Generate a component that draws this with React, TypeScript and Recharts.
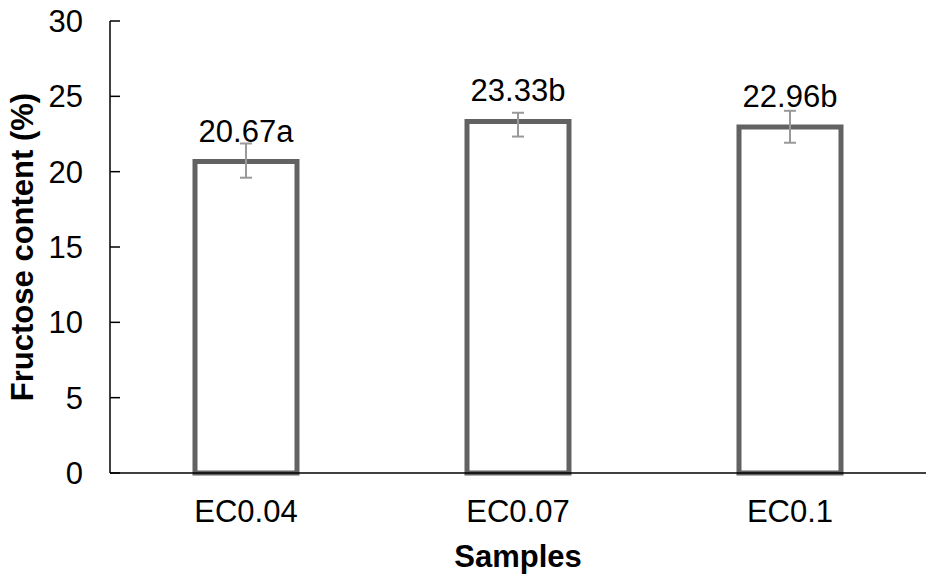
import { BarChart, Bar, XAxis, YAxis, ErrorBar, LabelList } from 'recharts';

const samples = ['EC0.04', 'EC0.07', 'EC0.1'];
const fructose = [20.67, 23.33, 22.96];
const letters = ['a', 'b', 'b'];
// [below, above] error extents read from the whiskers
const errors = [
  [1.07, 1.2],
  [1.0, 0.58],
  [1.04, 1.08],
];
const yTicks = [0, 5, 10, 15, 20, 25, 30];

const FONT = '"Liberation Sans", Arial, sans-serif';

const chartData = samples.map((name, i) => ({
  name,
  value: fructose[i],
  err: errors[i],
  letter: letters[i],
}));

const YTick = ({ x, y, payload }: any) => (
  <g>
    <line x1={x} x2={x + 10} y1={y} y2={y} stroke="#000" strokeWidth={1.5} />
    <text x={x - 27} y={y + 11} textAnchor="end" fontSize={31} fontFamily={FONT} fill="#000">
      {payload.value}
    </text>
  </g>
);

const XTick = ({ x, y, payload }: any) => (
  <text x={x} y={y + 49} textAnchor="middle" fontSize={31} fontFamily={FONT} fill="#000">
    {payload.value}
  </text>
);

const ValueLabel = ({ x, y, width, value, index }: any) => (
  <text
    x={x + width / 2}
    y={y - 20}
    textAnchor="middle"
    fontSize={31}
    fontFamily={FONT}
    fill="#000"
  >
    {Number(value).toFixed(2)}
    {letters[index]}
  </text>
);

export default function App() {
  return (
    <div style={{ position: 'absolute', left: 0, top: 0, width: 934, height: 582, background: '#fff' }}>
      <BarChart
        width={934}
        height={582}
        data={chartData}
        margin={{ top: 21, right: 8, left: 0, bottom: 0 }}
        barCategoryGap="31%"
      >
        <XAxis
          dataKey="name"
          height={109}
          tickLine={false}
          tickSize={0}
          tickMargin={0}
          axisLine={{ stroke: '#000', strokeWidth: 1.5 }}
          tick={<XTick />}
          label={{
            content: ({ viewBox }: any) => (
              <text
                x={viewBox.x + viewBox.width / 2}
                y={567}
                textAnchor="middle"
                fontSize={31}
                fontWeight="bold"
                fontFamily={FONT}
                fill="#000"
              >
                Samples
              </text>
            ),
          }}
        />
        <YAxis
          width={110}
          domain={[0, 30]}
          ticks={yTicks}
          interval={0}
          tickLine={false}
          tickSize={0}
          tickMargin={0}
          axisLine={{ stroke: '#000', strokeWidth: 1.5 }}
          tick={<YTick />}
          label={{
            content: ({ viewBox }: any) => {
              const cy = viewBox.y + viewBox.height / 2;
              return (
                <text
                  x={33}
                  y={cy}
                  transform={`rotate(-90, 33, ${cy})`}
                  textAnchor="middle"
                  fontSize={31}
                  fontWeight="bold"
                  fontFamily={FONT}
                  fill="#000"
                >
                  Fructose content (%)
                </text>
              );
            },
          }}
        />
        <Bar
          dataKey="value"
          fill="#fff"
          stroke="#626262"
          strokeWidth={5}
          barSize={102}
          isAnimationActive={false}
        >
          <ErrorBar dataKey="err" stroke="#999" strokeWidth={2} width={6} direction="y" />
          <LabelList dataKey="value" content={<ValueLabel />} />
        </Bar>
      </BarChart>
    </div>
  );
}
